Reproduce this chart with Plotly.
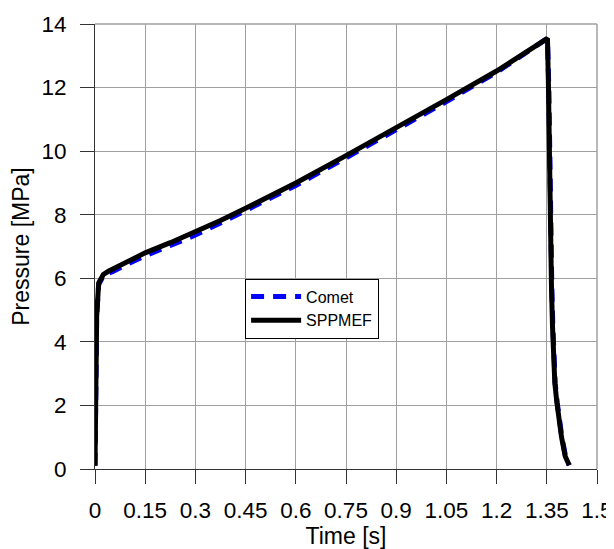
import plotly.graph_objects as go

# SPPMEF (solid black)
t_sppmef = [0.0, 0.002, 0.005, 0.011, 0.018, 0.025, 0.04, 0.055, 0.1, 0.15, 0.225, 0.3,
            0.375, 0.45, 0.6, 0.75, 0.9, 1.05, 1.2, 1.35, 1.352, 1.355, 1.357, 1.361,
            1.364, 1.367, 1.369, 1.374, 1.38, 1.387, 1.394, 1.405, 1.417]
p_sppmef = [0.1, 2.2, 4.8, 5.85, 6.02, 6.12, 6.22, 6.3, 6.55, 6.8, 7.12, 7.45,
            7.82, 8.2, 9.0, 9.86, 10.72, 11.62, 12.52, 13.5, 13.55, 12.0, 9.9, 7.6,
            5.7, 4.5, 3.6, 2.7, 2.1, 1.5, 1.0, 0.4, 0.12]

# Comet (blue dashed)
t_comet = [0.0, 0.002, 0.005, 0.011, 0.018, 0.025, 0.04, 0.055, 0.1, 0.15, 0.225, 0.3,
           0.375, 0.45, 0.6, 0.75, 0.9, 1.05, 1.2, 1.35, 1.352, 1.356, 1.358, 1.362,
           1.365, 1.368, 1.37, 1.375, 1.381, 1.388, 1.395, 1.406, 1.417]
p_comet = [0.1, 2.2, 4.8, 5.8, 5.98, 6.08, 6.16, 6.22, 6.46, 6.71, 7.03, 7.36,
           7.74, 8.12, 8.92, 9.79, 10.66, 11.56, 12.48, 13.5, 13.55, 12.0, 9.9, 7.6,
           5.7, 4.5, 3.6, 2.7, 2.1, 1.5, 1.0, 0.4, 0.12]

x_ticks = [0, 0.15, 0.3, 0.45, 0.6, 0.75, 0.9, 1.05, 1.2, 1.35, 1.5]
x_tick_labels = ["0", "0.15", "0.3", "0.45", "0.6", "0.75", "0.9", "1.05", "1.2", "1.35", "1.5"]
y_ticks = [0, 2, 4, 6, 8, 10, 12, 14]

FONT = "Arial, Liberation Sans, sans-serif"

fig = go.Figure()
fig.add_trace(go.Scatter(x=t_comet, y=p_comet, mode="lines", name="Comet",
                         line=dict(color="#0000FF", width=5, dash="13px,9px")))
fig.add_trace(go.Scatter(x=t_sppmef, y=p_sppmef, mode="lines", name="SPPMEF",
                         line=dict(color="#000000", width=5)))

# page body has an 8px margin, so the figure is 8px smaller and margins shifted
fig.update_layout(
    width=606, height=541,
    margin=dict(l=87, r=17, t=16, b=80, autoexpand=False),
    paper_bgcolor="white", plot_bgcolor="white",
    font=dict(family=FONT, size=22.5, color="black"),
    showlegend=True,
    legend=dict(x=0.299, y=0.428, xanchor="left", yanchor="top",
                bgcolor="white", bordercolor="black", borderwidth=1,
                font=dict(family=FONT, size=16, color="black"),
                tracegroupgap=0, itemwidth=50),
)
fig.update_xaxes(
    range=[0, 1.5], tickvals=x_ticks, ticktext=x_tick_labels, automargin=False,
    showgrid=True, gridcolor="#A0A0A0", gridwidth=1,
    showline=True, linecolor="#333333", linewidth=1,
    ticks="outside", ticklen=14, tickcolor="#333333", ticklabelstandoff=7,
    zeroline=False,
    title=dict(text="Time [s]", font=dict(family=FONT, size=23), standoff=4),
)
fig.update_yaxes(
    range=[0, 14], tickvals=y_ticks, automargin=False,
    showgrid=True, gridcolor="#A0A0A0", gridwidth=1,
    showline=True, linecolor="#333333", linewidth=1,
    ticks="outside", ticklen=14, tickcolor="#333333", ticklabelstandoff=9,
    zeroline=False,
    title=dict(text="Pressure [MPa]", font=dict(family=FONT, size=23), standoff=9),
)
# top and right frame edges (grey like the grid)
fig.add_shape(type="line", xref="paper", yref="paper", x0=0, x1=1, y0=1, y1=1,
              line=dict(color="#A0A0A0", width=1.5))
fig.add_shape(type="line", xref="paper", yref="paper", x0=1, x1=1, y0=0, y1=1,
              line=dict(color="#A0A0A0", width=1.5))

fig.write_html("out.html")
